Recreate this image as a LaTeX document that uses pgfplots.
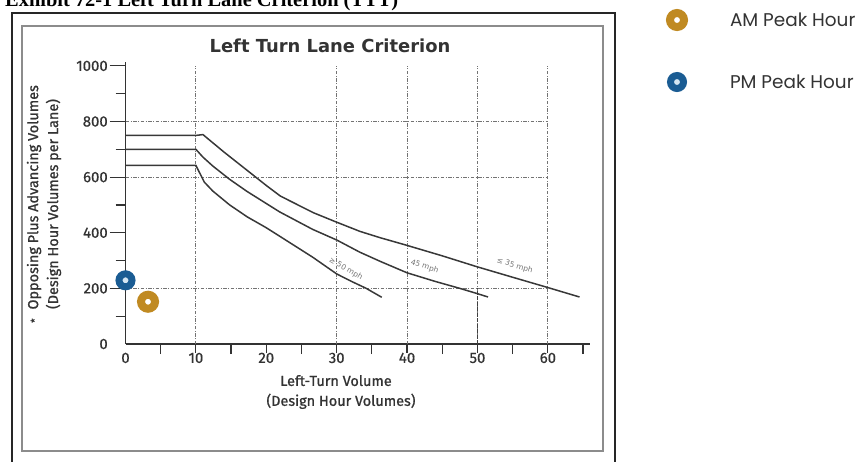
\documentclass[border=0pt]{standalone}
\usepackage{fontspec}
\setmainfont{Fira Sans}
\newfontfamily\headfont{Liberation Serif}
\newfontfamily\legfont{Poppins}
\newfontfamily\titlef{DejaVu Sans}
\newfontfamily\semib{Fira Sans}[FakeBold=1.0]
\newfontfamily\tickf{Fira Sans}[FakeBold=0.6]
\newfontfamily\symf{DejaVu Sans}
\usepackage{pgfplots}
\pgfplotsset{compat=1.18}
\definecolor{amgold}{HTML}{C08A22}
\definecolor{pmblue}{HTML}{1A5C93}
\definecolor{pmin}{HTML}{D5E6F2}
\definecolor{curvec}{HTML}{383838}
\definecolor{txt}{HTML}{333333}
\begin{document}
\begin{tikzpicture}
\useasboundingbox (0,0) rectangle (865bp,-462bp);
\clip (0,0) rectangle (865bp,-462bp);
\node[anchor=base west, inner sep=0pt, font=\headfont\bfseries\fontsize{20.5}{22}\selectfont] at (5bp,-6bp) {Exhibit 72-1 Left Turn Lane Criterion (TTT)};
\draw[black!85, line width=1.6bp] (12bp,-13bp) rectangle (615bp,-475bp);
\draw[black!45, line width=1.3bp] (22bp,-26bp) rectangle (603bp,-451bp);
\node[anchor=base, inner sep=0pt, text=txt, font=\titlef\bfseries\fontsize{18}{20}\selectfont] at (330bp,-52bp) {Left Turn Lane Criterion};
\node[rotate=90, align=center, text=txt, inner sep=0pt, font=\semib\fontsize{14.5}{20}\selectfont] at (44bp,-204bp) {{\fontsize{10}{10}\selectfont *}\hspace{9bp}Opposing Plus Advancing Volumes\\(Design Hour Volumes per Lane)};
\node[align=center, text=txt, inner sep=0pt, font=\semib\fontsize{14.5}{20}\selectfont] at (336bp,-392bp) {Left-Turn Volume\\\hspace{10bp}(Design Hour Volumes)};
\begin{axis}[
  at={(125.5bp,-344bp)}, anchor=south west,
  scale only axis, width=464.6bp, height=282bp,
  xmin=0, xmax=66, ymin=0, ymax=1014,
  axis lines*=left,
  axis line style={line width=1.4bp, black!80},
  clip=false,
  tick align=outside,
  xtick={10,20,...,60}, minor xtick={5,15,...,65},
  extra x ticks={0}, extra x tick style={major tick style={draw=none}},
  ytick={200,400,...,1000}, minor ytick={100,300,...,900},
  extra y ticks={0}, extra y tick style={major tick style={draw=none}},
  xtick style={/pgfplots/major tick length=9bp, /pgfplots/minor tick length=10bp},
  ytick style={/pgfplots/major tick length=16bp, /pgfplots/minor tick length=10bp},
  every tick/.style={black!80, line width=1.2bp},
  /pgf/number format/assume math mode=true,
  /pgf/number format/1000 sep={},
  ticklabel style={font=\tickf\fontsize{15}{16}\selectfont, text=txt},
  yticklabel style={xshift=-10bp},
  xticklabel style={yshift=-1bp},
  legend style={at={(axis description cs:1.1634,1.1879)}, anchor=north west,
    draw=none, fill=none, inner sep=0pt, outer sep=0pt,
    font=\legfont\fontsize{18.5}{20}\selectfont, text=black!80,
    row sep=40bp, /tikz/column sep=0pt},
  legend cell align=left,
  legend image code/.code={\path[draw=none,fill=none] (0bp,-11bp) (62bp,11bp); \draw[#1] plot coordinates {(11bp,0bp)};},
]
\draw[black!55, line width=1bp, dash pattern=on 3.5bp off 1.5bp on 1bp off 1.5bp]
  (axis cs:0,800) -- (axis cs:60,800)
  (axis cs:0,600) -- (axis cs:60,600)
  (axis cs:0,200) -- (axis cs:60,200)
  (axis cs:10,0) -- (axis cs:10,1000)
  (axis cs:30,0) -- (axis cs:30,1000)
  (axis cs:40,0) -- (axis cs:40,1000)
  (axis cs:50,0) -- (axis cs:50,1000)
  (axis cs:60,0) -- (axis cs:60,1000);
\draw[black!75, line width=1.1bp, dash pattern=on 4bp off 1.5bp] (axis cs:50,0) -- (axis cs:50,200);
% <= 35 mph
\addplot[curvec, line width=1.5bp, forget plot] coordinates {
(0,750) (10,750) (11,753) (14,690) (17.2,626) (20,570) (22,532) (24.5,500) (26.7,472) (29.8,440) (33.3,405) (36.2,382) (39.8,356) (45,317) (49.9,278) (55,240) (60,203) (64.5,169)};
% 45 mph
\addplot[curvec, line width=1.5bp, forget plot] coordinates {
(0,700) (10,700) (11,672) (12.4,640) (14.8,592) (17.3,548) (21.9,475) (26.6,412) (30,374) (33.3,330) (36.2,297) (40,256) (44,225) (47.5,200) (50,181) (51.5,169)};
% >= 50 mph
\addplot[curvec, line width=1.5bp, forget plot] coordinates {
(0,642) (10,642) (10.6,612) (11.2,582) (12.4,550) (14.8,500) (17.3,457) (20,418) (22,386) (26.6,312) (30,252) (32.2,224) (34.2,200) (36.4,168)};
\node[rotate=-30, text=black!55, inner sep=0pt, font=\symf\fontsize{7.5}{8}\selectfont] at (axis cs:31.3,270) {≥ 50 mph};
\node[rotate=-18, text=black!55, inner sep=0pt, font=\symf\fontsize{7.5}{8}\selectfont] at (axis cs:42.5,278) {45 mph};
\node[rotate=-17, text=black!55, inner sep=0pt, font=\symf\fontsize{7.5}{8}\selectfont] at (axis cs:55.3,282) {≤ 35 mph};
\addplot[only marks, mark=*, mark size=7bp, mark options={draw=amgold, fill=white, line width=8bp}] coordinates {(3.2,152)};
\addlegendentry{AM Peak Hour}
\addplot[only marks, mark=*, mark size=6.5bp, mark options={draw=pmblue, fill=pmin, line width=7bp}] coordinates {(0,229)};
\addlegendentry{PM Peak Hour}
\end{axis}
\end{tikzpicture}
\end{document}
